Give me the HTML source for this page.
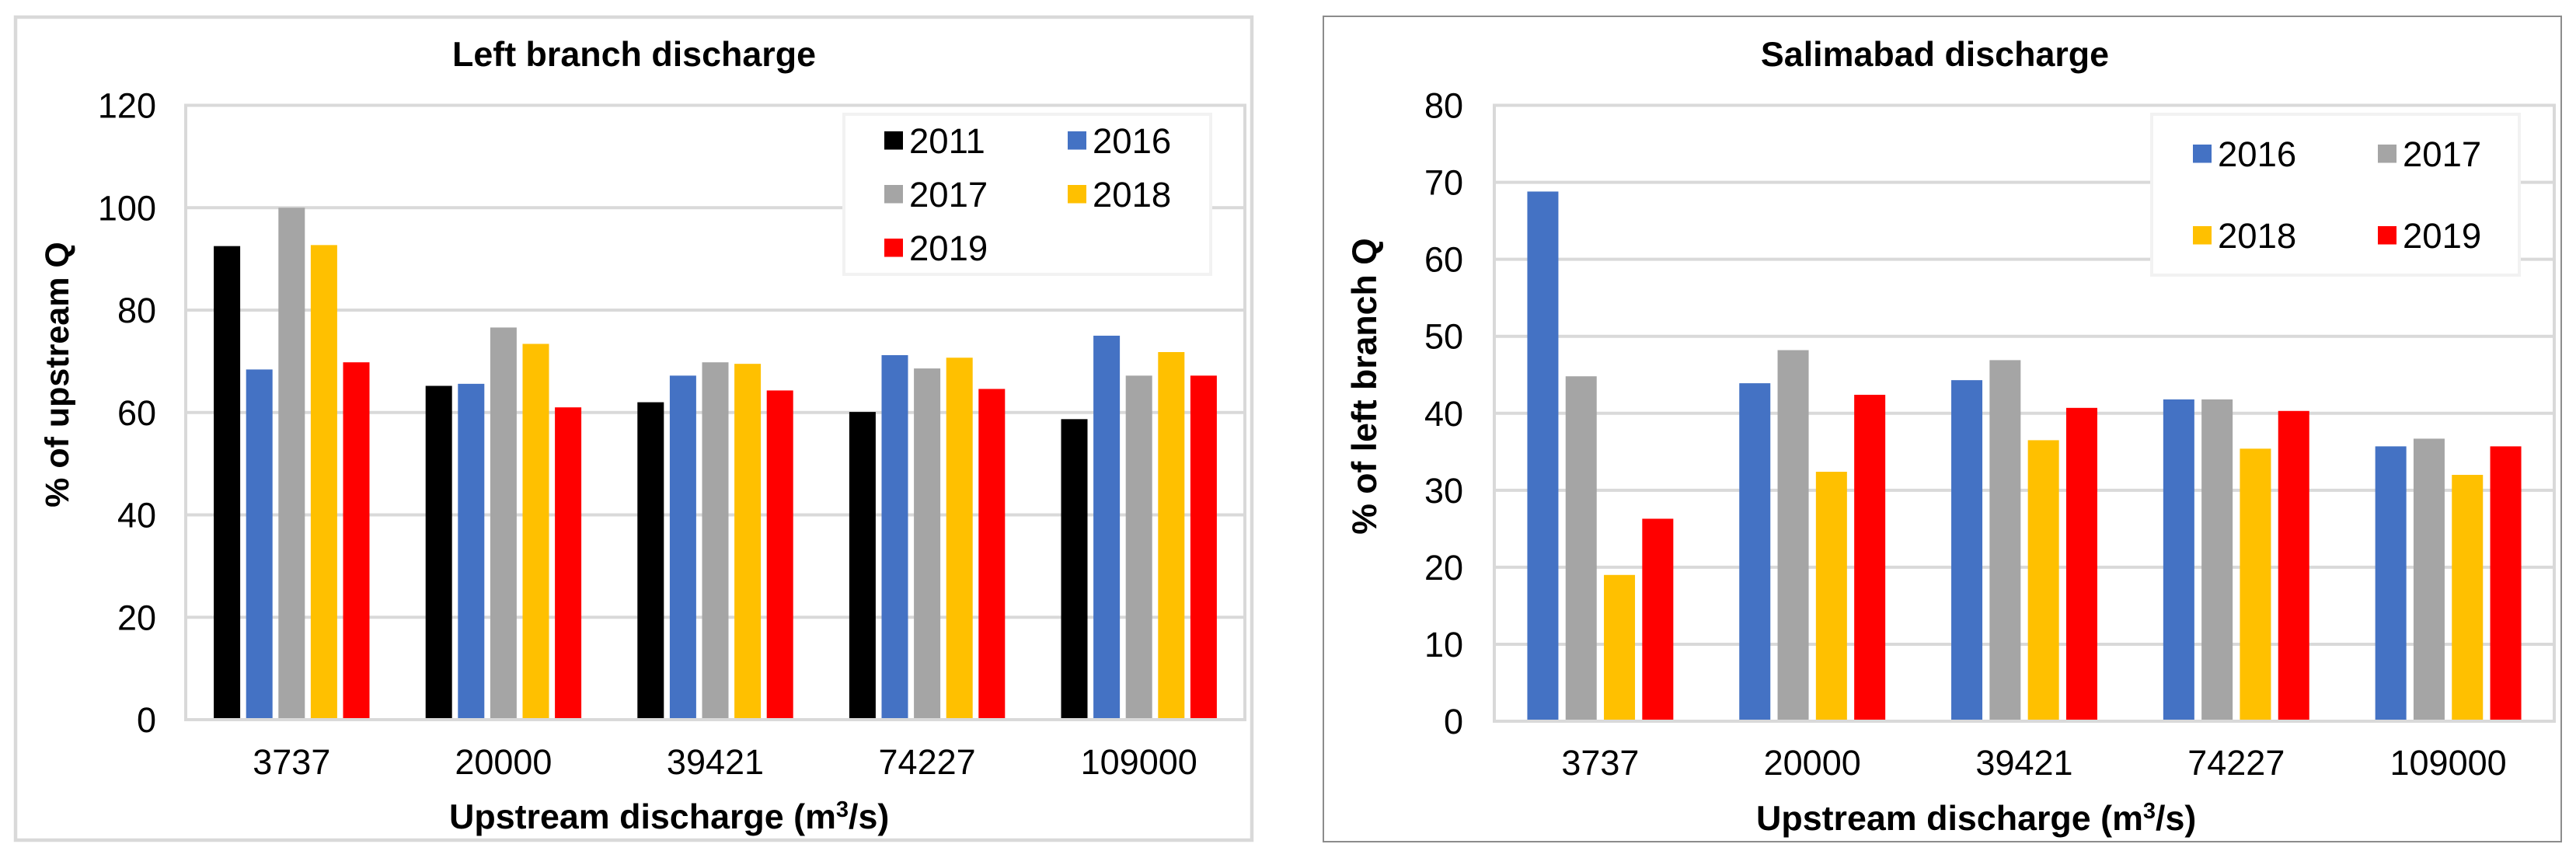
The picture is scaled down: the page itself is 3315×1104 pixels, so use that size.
<!DOCTYPE html>
<html lang="en">
<head>
<meta charset="utf-8">
<title>Left branch and Salimabad discharge</title>
<style>
html,body{margin:0;padding:0;background:#fff;width:3315px;height:1104px;overflow:hidden}
svg{display:block}
text{font-family:"Liberation Sans",Arial,sans-serif;fill:#000}
</style>
</head>
<body>
<svg id="figure" xmlns="http://www.w3.org/2000/svg" width="3315" height="1104" viewBox="0 0 3315 1104">
  <rect x="0" y="0" width="3315" height="1104" fill="#fff"/>

  <g id="left-chart">
    <rect x="20" y="22" width="1591" height="1059" fill="#fff" stroke="#d9d9d9" stroke-width="4.5"/>
    <text x="816" y="85" font-size="44.8" font-weight="700" text-anchor="middle">Left branch discharge</text>
    <text transform="translate(88 482) rotate(-90)" font-size="43" font-weight="700" text-anchor="middle">% of upstream Q</text>
    <text x="578" y="1066" font-size="44.8" font-weight="700">Upstream discharge (m<tspan font-size="29" dy="-15">3</tspan><tspan dy="15">/s)</tspan></text>
  </g>

  <g id="right-chart">
    <rect x="1703" y="21" width="1593" height="1062" fill="#fff" stroke="#8c8c8c" stroke-width="2"/>
    <text x="2490" y="85" font-size="44.8" font-weight="700" text-anchor="middle">Salimabad discharge</text>
    <text transform="translate(1771 497) rotate(-90)" font-size="44.6" font-weight="700" text-anchor="middle">% of left branch Q</text>
    <text x="2260" y="1068" font-size="44.8" font-weight="700">Upstream discharge (m<tspan font-size="29" dy="-15">3</tspan><tspan dy="15">/s)</tspan></text>
  </g>
</svg>

<script>
// Shared data
const categories = ["3737", "20000", "39421", "74227", "109000"];

// Left branch discharge (% of upstream Q)
const leftTicks = [0, 20, 40, 60, 80, 100, 120];
const leftYears = ["2011", "2016", "2017", "2018", "2019"];
const left2011 = [92.5, 65.2, 62.0, 60.1, 58.7];
const left2016 = [68.4, 65.6, 67.2, 71.2, 75.0];
const left2017 = [100.0, 76.6, 69.8, 68.6, 67.2];
const left2018 = [92.7, 73.4, 69.5, 70.7, 71.8];
const left2019 = [69.8, 61.0, 64.3, 64.6, 67.2];

// Salimabad discharge (% of left branch Q)
const rightTicks = [0, 10, 20, 30, 40, 50, 60, 70, 80];
const rightYears = ["2016", "2017", "2018", "2019"];
const right2016 = [68.8, 43.9, 44.3, 41.8, 35.7];
const right2017 = [44.8, 48.2, 46.9, 41.8, 36.7];
const right2018 = [19.0, 32.4, 36.5, 35.4, 32.0];
const right2019 = [26.3, 42.4, 40.7, 40.3, 35.7];

const yearColors = {"2011":"#000000","2016":"#4472c4","2017":"#a5a5a5","2018":"#ffc000","2019":"#ff0000"};
const NS = "http://www.w3.org/2000/svg";

function make(parent, tag, attrs, text) {
  const el = document.createElementNS(NS, tag);
  for (const k in attrs) el.setAttribute(k, attrs[k]);
  if (text !== undefined) el.textContent = text;
  parent.appendChild(el);
  return el;
}

function drawPlot(root, p, ticks, years, series) {
  const yMax = ticks[ticks.length - 1];
  const yPos = v => p.bottom - (v / yMax) * (p.bottom - p.top);
  const catW = (p.right - p.left) / categories.length;
  const clusterW = (years.length - 1) * p.step + p.barW;
  const xPos = (c, s) => p.left + catW * c + (catW - clusterW) / 2 + s * p.step;

  // gridlines and y tick labels
  ticks.forEach(t => {
    const line = make(root, "line", {x1:p.left, x2:p.right, y1:yPos(t), y2:yPos(t), stroke:"#d9d9d9", "stroke-width":4});
    
    
    const label = make(root, "text", {x:p.tickRight, y:yPos(t) + 16, "font-size":45, "text-anchor":"end"}, String(t));
    
    
  });

  // plot-area side borders
  const sideL = make(root, "line", {x1:p.left, x2:p.left, y1:p.top - 2, y2:p.bottom + 2, stroke:"#d9d9d9", "stroke-width":4});
  
  
  const sideR = make(root, "line", {x1:p.right, x2:p.right, y1:p.top - 2, y2:p.bottom + 2, stroke:"#d9d9d9", "stroke-width":4});
  
  

  // bars
  series.forEach((values, s) => {
    values.forEach((v, c) => {
      const bar = make(root, "rect", {
        x: xPos(c, s), y: yPos(v), width: p.barW,
        height: yPos(0) - 2 - yPos(v), fill: yearColors[years[s]]
      });
      
      
    });
  });

  // category labels
  categories.forEach((cat, c) => {
    const label = make(root, "text", {x:p.left + catW * (c + 0.5), y:p.xTickBase, "font-size":45, "text-anchor":"middle"}, cat);
    
    
  });
}

function drawLegend(root, l, years) {
  const box = make(root, "rect", {x:l.x, y:l.y, width:l.w, height:l.h, fill:"#fff", stroke:"#f2f2f2", "stroke-width":4});
  
  
  years.forEach((yr, i) => {
    const col = i % 2, row = Math.floor(i / 2);
    const sx = l.swatchX + col * l.colStep, sy = l.swatchY + row * l.rowStep;
    const swatch = make(root, "rect", {x:sx, y:sy, width:24, height:23.5, fill:yearColors[yr]});
    
    
    const label = make(root, "text", {x:sx + 32, y:sy + 28, "font-size":45.5}, yr);
    
    
  });
}

const leftRoot = document.getElementById("left-chart");
drawPlot(leftRoot,
  {left:239, right:1602, top:135.5, bottom:926, barW:34, step:41.6, tickRight:201, xTickBase:996},
  leftTicks, leftYears, [left2011, left2016, left2017, left2018, left2019]);
drawLegend(leftRoot,
  {x:1086, y:147, w:472, h:206, swatchX:1138, swatchY:169, colStep:236, rowStep:69},
  leftYears);

const rightRoot = document.getElementById("right-chart");
drawPlot(rightRoot,
  {left:1923, right:3287, top:135.5, bottom:928, barW:40, step:49.3, tickRight:1883, xTickBase:997},
  rightTicks, rightYears, [right2016, right2017, right2018, right2019]);
drawLegend(rightRoot,
  {x:2769, y:147, w:473, h:207, swatchX:2822, swatchY:186, colStep:238, rowStep:105},
  rightYears);
</script>
</body>
</html>
